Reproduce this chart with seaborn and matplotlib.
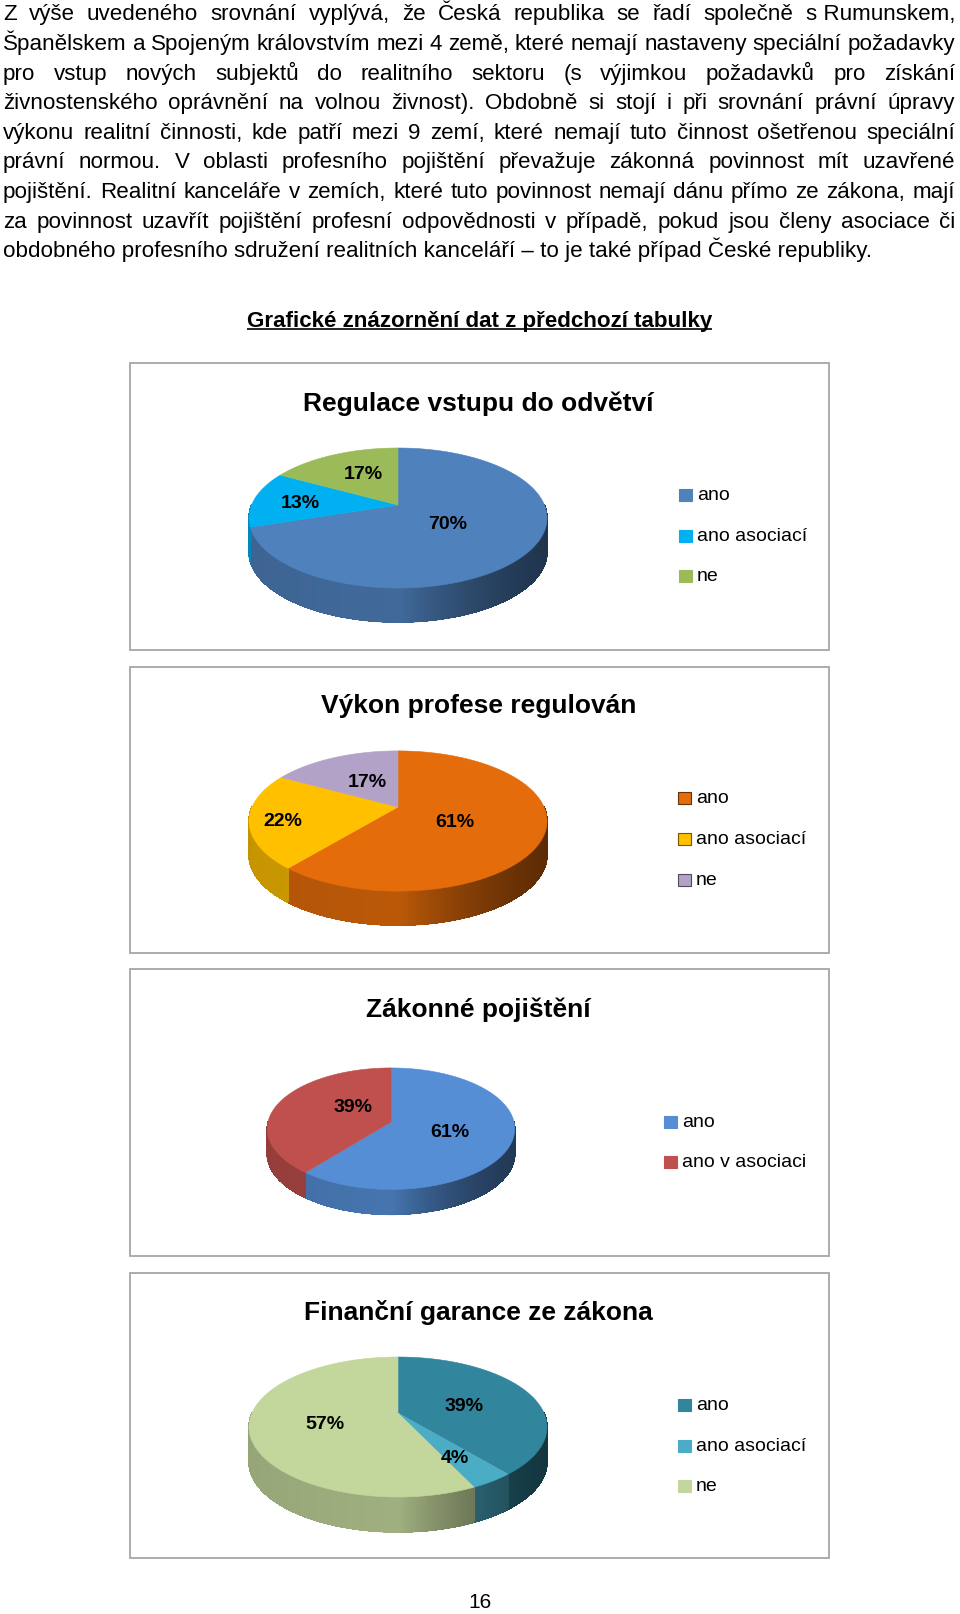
import numpy as np
import matplotlib
matplotlib.use("Agg")
import matplotlib.pyplot as plt
import seaborn as sns
from matplotlib.patches import Rectangle, Polygon
from matplotlib.collections import PolyCollection, LineCollection

# ------------------------------------------------------------------ data
paragraph_lines = [
    "Z výše uvedeného srovnání vyplývá, že Česká republika se řadí společně s\u00a0Rumunskem,",
    "Španělskem a Spojeným královstvím mezi 4 země, které nemají nastaveny speciální požadavky",
    "pro vstup nových subjektů do realitního sektoru (s výjimkou požadavků pro získání",
    "živnostenského oprávnění na volnou živnost). Obdobně si stojí i při srovnání právní úpravy",
    "výkonu realitní činnosti, kde patří mezi 9 zemí, které nemají tuto činnost ošetřenou speciální",
    "právní normou. V oblasti profesního pojištění převažuje zákonná povinnost mít uzavřené",
    "pojištění. Realitní kanceláře v zemích, které tuto povinnost nemají dánu přímo ze zákona, mají",
    "za povinnost uzavřít pojištění profesní odpovědnosti v případě, pokud jsou členy asociace či",
    "obdobného profesního sdružení realitních kanceláří \u2013 to je také případ České republiky.",
]
heading = "Grafické znázornění dat z předchozí tabulky"
page_number = "16"

titles = ["Regulace vstupu do odvětví", "Výkon profese regulován",
          "Zákonné pojištění", "Finanční garance ze zákona"]

cat_regulace = ["ano", "ano asociací", "ne"]
val_regulace = [70, 13, 17]
cat_vykon = ["ano", "ano asociací", "ne"]
val_vykon = [61, 22, 17]
cat_pojisteni = ["ano", "ano v asociaci"]
val_pojisteni = [61, 39]
cat_garance = ["ano", "ano asociací", "ne"]
val_garance = [39, 4, 57]

colors_regulace = ["#4F81BD", "#00B0F0", "#9BBB59"]
colors_vykon = ["#E46C0A", "#FFC000", "#B3A2C7"]
colors_pojisteni = ["#558ED5", "#C0504D"]
colors_garance = ["#31859C", "#4BACC6", "#C3D69B"]

# ------------------------------------------------------------------ layout (pixels)
W, H = 960, 1614
charts = [
    dict(cats=cat_regulace, vals=val_regulace, pal=colors_regulace, title=titles[0],
         box=(130, 363, 829, 650), title_y=402, apex=(398, 505), A=146.4, B=67.6, p=0.186,
         depth=34, label_r=[0.40, 0.68, 0.50], label_dy=[0, 0, -6],
         leg_x=679, leg_y=[495, 536, 576], leg_edge=False),
    dict(cats=cat_vykon, vals=val_vykon, pal=colors_vykon, title=titles[1],
         box=(130, 667, 829, 953), title_y=704, apex=(398, 807), A=146, B=67.3, p=0.2,
         depth=34, label_r=[0.40, 0.78, 0.44], label_dy=[4, 2, -3],
         leg_x=678, leg_y=[798, 839, 880], leg_edge=True),
    dict(cats=cat_pojisteni, vals=val_pojisteni, pal=colors_pojisteni, title=titles[2],
         box=(130, 969, 829, 1256), title_y=1008, apex=(391, 1122), A=123, B=60, p=0.11,
         depth=25, label_r=[0.50, 0.33], label_dy=[-2, -10],
         leg_x=664, leg_y=[1122, 1162], leg_edge=False),
    dict(cats=cat_garance, vals=val_garance, pal=colors_garance, title=titles[3],
         box=(130, 1273, 829, 1558), title_y=1311, apex=(398, 1413), A=146, B=67.2, p=0.2,
         depth=35, label_r=[0.50, 0.65, 0.50], label_dy=[2, 2, 2],
         leg_x=678, leg_y=[1405, 1446, 1486], leg_edge=False),
]

PX = 100 / 72.0  # pixels per point

sns.set_theme(style="white")
plt.rcParams['font.family'] = ['Liberation Sans', 'DejaVu Sans']

fig = plt.figure(figsize=(W / 100, H / 100), dpi=100)
fig.patch.set_facecolor("white")
ax = fig.add_axes([0, 0, 1, 1])
ax.set_xlim(0, W)
ax.set_ylim(H, 0)
ax.axis("off")
renderer = fig.canvas.get_renderer()


def text_width(s, size, weight="normal"):
    t = ax.text(0, 0, s, fontsize=size, fontweight=weight)
    w = t.get_window_extent(renderer).width
    t.remove()
    return w


def put(x, ycap, s, size, weight="normal", ha="left", **kw):
    """Place text so that the middle of its capital height is at ycap."""
    return ax.text(x, ycap + 0.358 * size * PX, s, fontsize=size, fontweight=weight,
                   ha=ha, va="baseline", color="black", **kw)


# ------------------------------------------------------------------ paragraph (justified)
x_left, x_right = 3, 955
base = 14.0
psize = base * 871.0 / text_width(paragraph_lines[-1], base)
line_y0, line_gap = 12.3, 29.6
for i, line in enumerate(paragraph_lines):
    yc = line_y0 + i * line_gap
    if i == len(paragraph_lines) - 1:
        put(x_left, yc, line, psize)
        continue
    words = line.split(" ")
    widths = [text_width(w_, psize) for w_ in words]
    gap = (x_right - x_left - sum(widths)) / (len(words) - 1)
    x = x_left
    for w_, wd in zip(words, widths):
        put(x, yc, w_, psize)
        x += wd + gap

# ------------------------------------------------------------------ heading
hsize = 14.0 * 467.0 / text_width(heading, 14.0, "bold")
hw = text_width(heading, hsize, "bold")
put(479.5, 319, heading, hsize, "bold", ha="center")
ax.plot([479.5 - hw / 2, 479.5 + hw / 2], [329, 329], color="black", lw=1.2,
        solid_capstyle="butt")

# ------------------------------------------------------------------ pies


def project(c, r, t):
    cx, cy = c["apex"]
    s, co = np.sin(t), np.cos(t)
    w = 1 + c["p"] * r * s
    return cx + c["A"] * r * co / w, cy - c["B"] * r * s / w


def shade(cosv):
    if cosv < 0:
        return 0.82 + 0.05 * cosv
    return 0.82 - 0.75 * cosv + 0.33 * cosv ** 2


def front_runs(ts, te):
    """Parts of the angle interval [te, ts] that face the viewer (sin < 0)."""
    runs = []
    for k in range(-3, 3):
        lo = max(te, np.pi + 2 * np.pi * k)
        hi = min(ts, 2 * np.pi + 2 * np.pi * k)
        if hi > lo:
            runs.append((lo, hi))
    return runs


for c in charts:
    x0, y0, x1, y1 = c["box"]
    ax.add_patch(Rectangle((x0, y0), x1 - x0, y1 - y0, fill=False,
                           edgecolor="#A6A6A6", lw=1.3, zorder=1))
    put((x0 + x1) / 2 - 1, c["title_y"], c["title"], 19, "bold", ha="center")

    vals = np.array(c["vals"], dtype=float)
    pal = sns.color_palette(c["pal"])
    cum = np.concatenate([[0], np.cumsum(vals)]) / vals.sum()
    starts = np.deg2rad(90 - 360 * cum[:-1])
    ends = np.deg2rad(90 - 360 * cum[1:])
    d = c["depth"]

    # side walls: thin non-antialiased quads + antialiased bottom outline
    quads, qcols, lines, lcols = [], [], [], []
    for i, (ts, te) in enumerate(zip(starts, ends)):
        for lo, hi in front_runs(ts, te):
            n = max(int(np.rad2deg(hi - lo) * 2), 2)
            tt = np.linspace(hi, lo, n + 1)
            for a0, a1 in zip(tt[:-1], tt[1:]):
                mid = (a0 + a1) / 2
                xa, ya = project(c, 1, a0)
                xb, yb = project(c, 1, a1)
                col = np.clip(np.array(pal[i]) * shade(np.cos(mid)), 0, 1)
                quads.append([(xa, ya), (xb, yb), (xb, yb + d), (xa, ya + d)])
                qcols.append(col)
                lines.append([(xa, ya + d), (xb, yb + d)])
                lcols.append(col)
    ax.add_collection(PolyCollection(quads, facecolors=qcols, edgecolors=qcols,
                                     linewidths=0.5, antialiaseds=False, zorder=2))
    ax.add_collection(LineCollection(lines, colors=lcols, linewidths=1.0, zorder=2))

    # top face wedges
    for i, (ts, te) in enumerate(zip(starts, ends)):
        n = max(int(np.rad2deg(ts - te)), 2)
        tt = np.linspace(ts, te, n + 1)
        pts = [c["apex"]] + [project(c, 1, t) for t in tt]
        ax.add_patch(Polygon(pts, closed=True, facecolor=pal[i], edgecolor=pal[i],
                             lw=0.4, zorder=3))

    # percentage labels
    for i, (ts, te) in enumerate(zip(starts, ends)):
        lx, ly = project(c, c["label_r"][i], (ts + te) / 2)
        pct = vals[i] / vals.sum() * 100
        put(lx, ly + c["label_dy"][i], f"{pct:.0f}%", 14, "bold", ha="center", zorder=4)

    # legend
    for i, (cat, ly) in enumerate(zip(c["cats"], c["leg_y"])):
        edge = tuple(np.array(pal[i]) * 0.45) if c["leg_edge"] else pal[i]
        ax.add_patch(Rectangle((c["leg_x"], ly - 6), 13, 12, facecolor=pal[i],
                               edgecolor=edge, lw=0.8, zorder=3))
        ax.text(c["leg_x"] + 18, ly + 0.26 * 14 * PX, cat, fontsize=14,
                va="baseline", ha="left", color="black")

# ------------------------------------------------------------------ page number
put(480, 1601, page_number, 15, ha="center")

ax.set_xlim(0, W)
ax.set_ylim(H, 0)
fig.savefig("out.png", dpi=100, facecolor="white")
